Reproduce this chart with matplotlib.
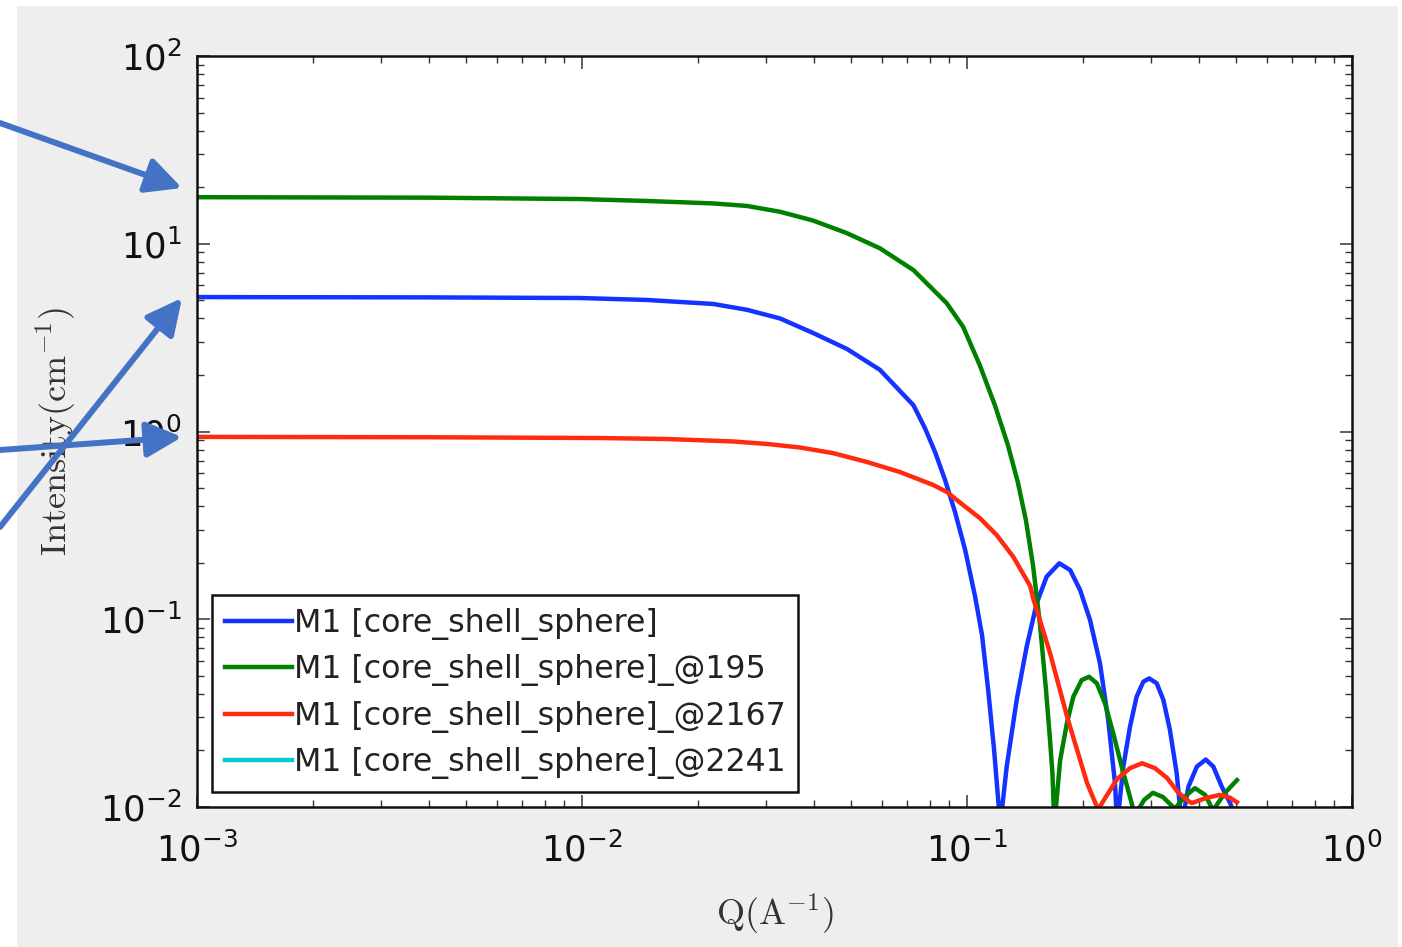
import matplotlib
matplotlib.use("Agg")
import matplotlib.pyplot as plt
from matplotlib.patches import FancyArrowPatch, Rectangle
from matplotlib.ticker import LogLocator, NullFormatter

# ---------------------------------------------------------------
# values (Q in 1/A, I in 1/cm)
# ---------------------------------------------------------------
q_blue = [0.001, 0.004, 0.0099, 0.0147, 0.0219, 0.0268, 0.0327, 0.0398, 0.0488,
          0.0594, 0.0726, 0.0778, 0.0826, 0.0877, 0.0931, 0.0989, 0.1050, 0.1094,
          0.1135, 0.1176, 0.122, 0.1268, 0.1346, 0.1429, 0.1517, 0.1610, 0.1737,
          0.1853, 0.1967, 0.2087, 0.2215, 0.2327, 0.2423, 0.2454, 0.2547, 0.2651,
          0.2758, 0.2871, 0.2973, 0.3110, 0.3236, 0.3366, 0.3505, 0.3612, 0.3758,
          0.3953, 0.4170, 0.4364, 0.4592, 0.4823, 0.4966]
i_blue = [5.20, 5.18, 5.14, 5.02, 4.78, 4.45, 4.00, 3.35, 2.75,
          2.13, 1.38, 1.04, 0.778, 0.552, 0.372, 0.234, 0.1316, 0.0824,
          0.0420, 0.0201, 0.008, 0.0164, 0.0372, 0.0715, 0.1216, 0.1686, 0.1986,
          0.1828, 0.1431, 0.0991, 0.0582, 0.0290, 0.0134, 0.008, 0.0164, 0.0268,
          0.0387, 0.0465, 0.0484, 0.0456, 0.0372, 0.0257, 0.0151, 0.008, 0.0128,
          0.0164, 0.0179, 0.0164, 0.0128, 0.0105, 0.009]

q_green = [0.001, 0.004, 0.0099, 0.0147, 0.0219, 0.0268, 0.0327, 0.0398, 0.0487,
           0.0594, 0.0726, 0.0886, 0.0977, 0.108, 0.1183, 0.1277, 0.1355, 0.1422,
           0.1484, 0.1548, 0.1604, 0.1643, 0.1667, 0.1686, 0.1746, 0.1817, 0.1889,
           0.1985, 0.2075, 0.2173, 0.2283, 0.2398, 0.2522, 0.2651, 0.2729, 0.2884,
           0.3040, 0.3228, 0.3467, 0.3685, 0.3909, 0.4156, 0.4355, 0.4680, 0.5025]
i_green = [17.7, 17.6, 17.3, 16.9, 16.4, 15.9, 14.8, 13.3, 11.4,
           9.46, 7.24, 4.82, 3.61, 2.25, 1.37, 0.847, 0.538, 0.338,
           0.194, 0.0931, 0.0420, 0.0228, 0.0151, 0.008, 0.0178, 0.0279, 0.0387,
           0.0474, 0.0494, 0.0456, 0.0356, 0.0247, 0.0164, 0.0113, 0.009, 0.0109,
           0.0119, 0.0113, 0.0098, 0.0114, 0.0126, 0.0116, 0.0096, 0.0119, 0.0139]

q_red = [0.001, 0.004, 0.01114, 0.01663, 0.0247, 0.0303, 0.0368, 0.0449, 0.0550,
         0.0670, 0.0817, 0.0887, 0.0977, 0.1081, 0.1194, 0.1319, 0.1460, 0.1484,
         0.1643, 0.1821, 0.1932, 0.2051, 0.2190, 0.2312, 0.2454, 0.2651, 0.2850,
         0.3078, 0.3306, 0.3529, 0.3748, 0.3839, 0.4199, 0.4539, 0.4823, 0.5025]
i_red = [0.936, 0.932, 0.923, 0.912, 0.885, 0.858, 0.822, 0.767, 0.688,
         0.608, 0.519, 0.476, 0.406, 0.345, 0.281, 0.215, 0.150, 0.130,
         0.0661, 0.0301, 0.0201, 0.0134, 0.0097, 0.0116, 0.0141, 0.0161, 0.0171,
         0.0161, 0.0143, 0.0120, 0.0108, 0.0105, 0.0112, 0.0116, 0.0112, 0.0106]

# fourth data set is in the legend but hidden behind the others
q_cyan = []
i_cyan = []

labels = ["M1 [core_shell_sphere]",
          "M1 [core_shell_sphere]_@195",
          "M1 [core_shell_sphere]_@2167",
          "M1 [core_shell_sphere]_@2241"]
colors = ["#1533ff", "#008000", "#ff2a10", "#00c8d0"]

# ---------------------------------------------------------------
# figure
# ---------------------------------------------------------------
W, H = 1402, 947
fig = plt.figure(figsize=(W / 100, H / 100), dpi=100, facecolor="white")

# grey window background of the screenshot
fig.add_artist(Rectangle((17 / W, 0), (1398 - 17) / W, 1 - 6 / H,
                         transform=fig.transFigure, facecolor="#eeeeee",
                         edgecolor="none", zorder=-10))

ax = fig.add_axes([197 / W, 1 - 807 / H, (1352 - 197) / W, (807 - 56) / H])
ax.set_facecolor("white")

for q, i, c, lab in zip([q_blue, q_green, q_red, q_cyan],
                        [i_blue, i_green, i_red, i_cyan], colors, labels):
    ax.plot(q, i, color=c, lw=3.2, label=lab, solid_joinstyle="round")

ax.set_xscale("log")
ax.set_yscale("log")
ax.set_xlim(1e-3, 1e0)
ax.set_ylim(1e-2, 1e2)

ax.xaxis.set_major_locator(LogLocator(base=10, numticks=10))
ax.yaxis.set_major_locator(LogLocator(base=10, numticks=10))
ax.xaxis.set_minor_locator(LogLocator(base=10, subs=range(2, 10), numticks=20))
ax.yaxis.set_minor_locator(LogLocator(base=10, subs=range(2, 10), numticks=20))
ax.xaxis.set_minor_formatter(NullFormatter())
ax.yaxis.set_minor_formatter(NullFormatter())

ax.tick_params(which="both", direction="in", top=True, right=True,
               colors="#333333", labelcolor="#111111")
ax.tick_params(which="major", length=9, width=1.1, labelsize=25.5)
ax.tick_params(which="minor", length=5, width=1.0)
ax.tick_params(axis="x", which="major", pad=18)
ax.tick_params(axis="y", which="major", pad=11)

for s in ax.spines.values():
    s.set_linewidth(1.8)
    s.set_color("#111111")

ax.set_xlabel(r"$\mathrm{Q(A^{-1})}$", fontsize=26, color="#333333",
              math_fontfamily="cm", labelpad=17)
ax.set_ylabel(r"$\mathrm{Intensity(cm^{-1})}$", fontsize=26, color="#333333",
              math_fontfamily="cm", labelpad=16)

leg = ax.legend(loc="lower left", fontsize=22.8, handlelength=2.13,
                handletextpad=0.05, borderaxespad=0.47, borderpad=0.4,
                labelspacing=0.46, fancybox=False, framealpha=1,
                edgecolor="#111111")
leg.get_frame().set_linewidth(1.8)
for t in leg.get_texts():
    t.set_color("#222222")

# hand-drawn annotation arrows (figure pixels -> fraction)
def fpx(x, y):
    return (x / W, 1 - y / H)

arrow_paths = [((0, 123), (182, 188)),
               ((0, 527), (182, 298)),
               ((0, 450), (182, 437))]
for start, end in arrow_paths:
    fig.add_artist(FancyArrowPatch(fpx(*start), fpx(*end),
                                   transform=fig.transFigure,
                                   arrowstyle="-|>,head_length=0.9,head_width=0.45",
                                   mutation_scale=24, lw=4.3, color="#4472c4",
                                   shrinkA=0, shrinkB=0, zorder=20))

fig.savefig("out.png", dpi=100, facecolor=fig.get_facecolor())
